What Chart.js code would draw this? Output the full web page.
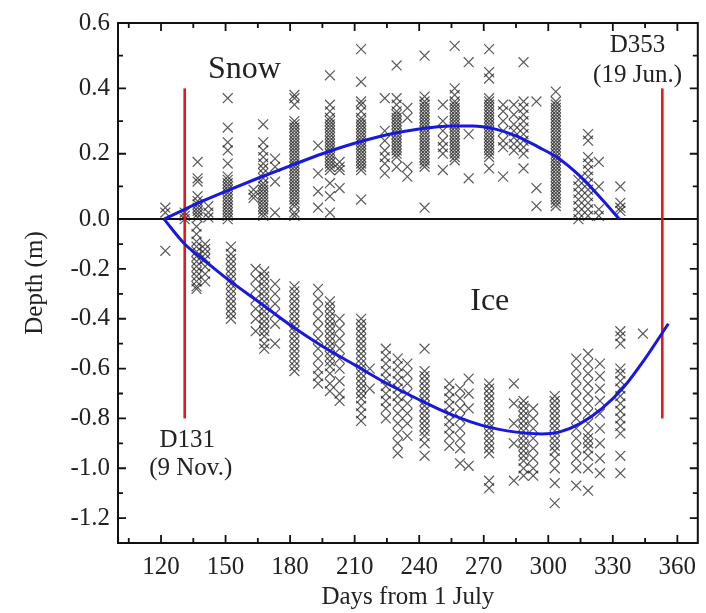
<!DOCTYPE html>
<html>
<head>
<meta charset="utf-8">
<title>Snow and ice depth</title>
<script src="https://cdn.jsdelivr.net/npm/chart.js@4.4.1/dist/chart.umd.min.js"></script>
<style>
  html, body { margin: 0; padding: 0; background: #fff; }
  #wrap { width: 706px; height: 613px; }
</style>
</head>
<body>
<div id="wrap"><canvas id="depthChart"></canvas></div>
<script>
var FONT = '"Liberation Serif", "Times New Roman", serif';
var INK = '#222';

// ─── AXIS TICKS ──────────────────────────────────────────────────────────
var xTicks = [120, 150, 180, 210, 240, 270, 300, 330, 360];
var xMinorTicks = [105, 135, 165, 195, 225, 255, 285, 315, 345];
var snowTicks = [0.2, 0.4, 0.6];
var iceTicks = [-1.2, -1.0, -0.8, -0.6, -0.4, -0.2, 0.0];
var yMinorTicks = [0.5, 0.3, 0.1, -0.1, -0.3, -0.5, -0.7, -0.9, -1.1];

// ─── MEASUREMENTS: one list of depths per sampling day ───────────────────
var snowDays = [122, 131, 137, 142, 151, 163, 167.5, 173, 182, 193, 198.5, 203, 213, 224, 229.5, 234.5,
    242.5, 251, 256.5, 263, 272.5, 279, 284, 288.5, 294.5, 303.5, 314, 318.5, 323.5, 333.5];
var snowDepths = [
    [0.035, 0.02],
    [0.02, 0.01, 0.0],
    [0.175, 0.125, 0.115, 0.07, 0.055, 0.045, 0.035, 0.025, 0.015, 0.005],
    [0.04, 0.02, 0.005],
    [0.37, 0.28, 0.235, 0.21, 0.17, 0.13, 0.12, 0.11, 0.1, 0.09, 0.08, 0.07, 0.06, 0.05, 0.04, 0.03, 0.02, 0.01, 0.0],
    [0.09, 0.075, 0.065],
    [0.29, 0.235, 0.21, 0.19, 0.17, 0.155, 0.14, 0.125, 0.11, 0.1, 0.09, 0.08, 0.07, 0.06, 0.05, 0.04, 0.03, 0.02, 0.01],
    [0.185, 0.16, 0.115, 0.02],
    [0.38, 0.37, 0.35, 0.3, 0.29, 0.28, 0.27, 0.26, 0.25, 0.24, 0.23, 0.22, 0.21, 0.2, 0.19, 0.18, 0.17, 0.16,
        0.15, 0.14, 0.13, 0.12, 0.11, 0.1, 0.09, 0.08, 0.07, 0.06, 0.05, 0.04, 0.02, 0.01],
    [0.225, 0.14, 0.085, 0.035],
    [0.44, 0.35, 0.33, 0.31, 0.3, 0.29, 0.28, 0.27, 0.26, 0.25, 0.24, 0.23, 0.22, 0.21, 0.2, 0.19, 0.18, 0.17,
        0.16, 0.15, 0.11, 0.07, 0.02],
    [0.175, 0.16, 0.15, 0.095],
    [0.52, 0.42, 0.36, 0.35, 0.33, 0.31, 0.3, 0.29, 0.28, 0.27, 0.26, 0.25, 0.24, 0.23, 0.22, 0.21, 0.2, 0.19,
        0.18, 0.17, 0.16, 0.15, 0.06],
    [0.37, 0.27, 0.24, 0.21, 0.19, 0.17, 0.14],
    [0.47, 0.37, 0.35, 0.33, 0.32, 0.31, 0.3, 0.29, 0.28, 0.27, 0.26, 0.25, 0.24, 0.23, 0.22, 0.21, 0.2, 0.19, 0.16],
    [0.34, 0.31, 0.16, 0.13],
    [0.5, 0.375, 0.36, 0.35, 0.34, 0.33, 0.32, 0.31, 0.3, 0.29, 0.28, 0.27, 0.26, 0.25, 0.24, 0.23, 0.22, 0.21,
        0.2, 0.19, 0.18, 0.17, 0.16, 0.035],
    [0.35, 0.3, 0.27, 0.24, 0.22, 0.2, 0.15],
    [0.53, 0.4, 0.38, 0.36, 0.35, 0.34, 0.33, 0.32, 0.31, 0.3, 0.29, 0.28, 0.27, 0.26, 0.25, 0.24, 0.23, 0.22,
        0.21, 0.2, 0.19, 0.18],
    [0.48, 0.26, 0.125],
    [0.52, 0.45, 0.43, 0.37, 0.36, 0.35, 0.34, 0.33, 0.32, 0.31, 0.3, 0.29, 0.28, 0.27, 0.26, 0.25, 0.24, 0.23,
        0.22, 0.21, 0.2, 0.19, 0.155],
    [0.35, 0.33, 0.3, 0.27, 0.24, 0.22, 0.13],
    [0.35, 0.32, 0.29, 0.27, 0.25, 0.23, 0.21],
    [0.48, 0.36, 0.34, 0.32, 0.3, 0.28, 0.26, 0.24, 0.22, 0.2, 0.155],
    [0.36, 0.095, 0.04],
    [0.39, 0.36, 0.35, 0.34, 0.33, 0.32, 0.31, 0.3, 0.29, 0.28, 0.27, 0.26, 0.25, 0.24, 0.23, 0.22, 0.21, 0.2,
        0.19, 0.18, 0.17, 0.16, 0.15, 0.14, 0.13, 0.12, 0.11, 0.1, 0.09, 0.08, 0.07, 0.06, 0.05, 0.04],
    [0.12, 0.1, 0.08, 0.06, 0.04, 0.02, 0.0],
    [0.26, 0.24, 0.19, 0.17, 0.15, 0.13, 0.11, 0.09, 0.07, 0.05, 0.03, 0.01],
    [0.175, 0.1, 0.03, 0.01],
    [0.1, 0.05, 0.035, 0.025]
];

var iceDays = [122, 136.5, 140.5, 152.5, 164, 168, 173, 182, 193, 198.5, 203, 213, 217, 224.5, 230, 234.5,
    242.5, 254, 259, 263, 272.5, 284, 288.5, 293, 303, 313, 318.5, 324, 333.5, 344];
var iceDepths = [
    [-0.127],
    [-0.03, -0.06, -0.09, -0.11, -0.13, -0.15, -0.17, -0.19, -0.21, -0.23, -0.25, -0.27, -0.28],
    [-0.1, -0.12, -0.14, -0.16, -0.19, -0.22, -0.25],
    [-0.11, -0.14, -0.16, -0.18, -0.2, -0.22, -0.24, -0.26, -0.28, -0.3, -0.32, -0.34, -0.36, -0.38, -0.4],
    [-0.2, -0.24, -0.28, -0.32, -0.36, -0.4, -0.45],
    [-0.21, -0.23, -0.25, -0.27, -0.29, -0.31, -0.33, -0.35, -0.37, -0.39, -0.41, -0.43, -0.45, -0.47, -0.5, -0.52],
    [-0.26, -0.3, -0.34, -0.38, -0.42, -0.5],
    [-0.27, -0.29, -0.31, -0.33, -0.35, -0.37, -0.39, -0.41, -0.43, -0.45, -0.47, -0.49, -0.51, -0.53, -0.55,
        -0.57, -0.59, -0.61],
    [-0.28, -0.32, -0.36, -0.4, -0.44, -0.48, -0.52, -0.56, -0.6, -0.63, -0.66],
    [-0.33, -0.35, -0.37, -0.39, -0.41, -0.43, -0.45, -0.47, -0.49, -0.51, -0.53, -0.55, -0.57, -0.59, -0.62,
        -0.66, -0.69],
    [-0.4, -0.44, -0.48, -0.52, -0.56, -0.6, -0.65, -0.7, -0.73],
    [-0.4, -0.42, -0.44, -0.46, -0.48, -0.5, -0.52, -0.54, -0.56, -0.58, -0.6, -0.62, -0.64, -0.66, -0.68, -0.7,
        -0.72, -0.75, -0.78, -0.81],
    [-0.6, -0.68],
    [-0.52, -0.55, -0.58, -0.61, -0.64, -0.67, -0.7, -0.73, -0.76, -0.8],
    [-0.56, -0.59, -0.62, -0.65, -0.68, -0.71, -0.74, -0.78, -0.82, -0.86, -0.9, -0.94],
    [-0.58, -0.62, -0.66, -0.7, -0.74, -0.78, -0.82, -0.87],
    [-0.52, -0.61, -0.63, -0.65, -0.67, -0.69, -0.71, -0.73, -0.75, -0.77, -0.79, -0.81, -0.83, -0.85, -0.87,
        -0.9, -0.95],
    [-0.66, -0.69, -0.72, -0.75, -0.78, -0.81, -0.84, -0.87, -0.91],
    [-0.68, -0.72, -0.76, -0.8, -0.84, -0.88, -0.92, -0.98],
    [-0.64, -0.7, -0.76, -0.99],
    [-0.66, -0.68, -0.7, -0.72, -0.74, -0.76, -0.78, -0.8, -0.82, -0.84, -0.86, -0.88, -0.9, -0.92, -0.94,
        -1.05, -1.08],
    [-0.66, -0.74, -0.82, -0.9, -1.05],
    [-0.73, -0.75, -0.77, -0.79, -0.81, -0.83, -0.85, -0.87, -0.89, -0.91, -0.93, -0.95, -0.97, -1.0, -1.03],
    [-0.76, -0.8, -0.84, -0.88, -0.92, -0.96, -1.0, -1.03],
    [-0.71, -0.73, -0.75, -0.77, -0.79, -0.81, -0.83, -0.85, -0.87, -0.89, -0.91, -0.93, -0.96, -1.0, -1.06, -1.14],
    [-0.56, -0.6, -0.64, -0.68, -0.72, -0.76, -0.8, -0.84, -0.88, -0.92, -0.96, -1.0, -1.07],
    [-0.54, -0.58, -0.62, -0.66, -0.7, -0.74, -0.78, -0.82, -0.86, -0.88, -0.9, -0.92, -0.95, -1.0, -1.09],
    [-0.58, -0.63, -0.68, -0.73, -0.78, -0.84, -0.9, -0.96, -1.02],
    [-0.45, -0.47, -0.5, -0.6, -0.62, -0.65, -0.68, -0.71, -0.74, -0.77, -0.8, -0.83, -0.86, -0.95, -1.02],
    [-0.46]
];

// ─── FITTED CURVES ───────────────────────────────────────────────────────
var snowFitDays  = [121.4, 131, 140, 150, 165, 180, 195, 210, 225, 240, 255, 265, 275, 285, 295, 305, 315, 325, 333];
var snowFitDepth = [0, 0.03, 0.057, 0.085, 0.125, 0.163, 0.2, 0.232, 0.258, 0.276, 0.285, 0.285, 0.276, 0.255, 0.222, 0.185, 0.13, 0.06, 0];
var iceFitDays  = [121.4, 131, 140, 150, 165, 180, 195, 210, 225, 240, 255, 270, 285, 297, 305, 315, 325, 335, 345, 355.8];
var iceFitDepth = [0, -0.1, -0.165, -0.235, -0.33, -0.425, -0.51, -0.585, -0.66, -0.725, -0.785, -0.83, -0.855, -0.862, -0.855, -0.82, -0.76, -0.675, -0.56, -0.42];

// ─── SEASON MARKERS (D131, D353) ─────────────────────────────────────────
var markerDays = [131, 353];
var markerTop = 0.4;
var markerBottom = -0.8;

function columnPoints(days, depths) {
    var pts = [];
    days.forEach(function (d, i) {
        depths[i].forEach(function (v) { pts.push({ x: d, y: v }); });
    });
    return pts;
}

function zip(xs, ys) {
    return xs.map(function (x, i) { return { x: x, y: ys[i] }; });
}

var lineBase = { showLine: true, pointRadius: 0, pointHoverRadius: 0, fill: false, clip: false };

var datasets = [
    Object.assign({ data: zip(snowFitDays, snowFitDepth), yAxisID: 'ySnow', borderColor: '#1818e0', borderWidth: 3, cubicInterpolationMode: 'monotone' }, lineBase),
    Object.assign({ data: zip(iceFitDays, iceFitDepth), yAxisID: 'yIce', borderColor: '#1818e0', borderWidth: 3, cubicInterpolationMode: 'monotone' }, lineBase)
];
markerDays.forEach(function (d) {
    datasets.push(Object.assign({ data: [{ x: d, y: 0 }, { x: d, y: markerTop }], yAxisID: 'ySnow', borderColor: '#f01414', borderWidth: 2.6 }, lineBase));
    datasets.push(Object.assign({ data: [{ x: d, y: markerBottom }, { x: d, y: 0 }], yAxisID: 'yIce', borderColor: '#f01414', borderWidth: 2.6 }, lineBase));
});
// zero line between the snow and ice halves
datasets.push(Object.assign({ data: [{ x: 100, y: 0 }, { x: 369.5, y: 0 }], yAxisID: 'yIce', borderColor: '#111', borderWidth: 2 }, lineBase));

var crossStyle = { pointStyle: 'crossRot', pointRadius: 7, pointHoverRadius: 7, borderColor: 'rgba(25,25,25,0.72)', borderWidth: 1.2, clip: false };
datasets.push(Object.assign({ data: columnPoints(snowDays, snowDepths), yAxisID: 'ySnow' }, crossStyle));
datasets.push(Object.assign({ data: columnPoints(iceDays, iceDepths), yAxisID: 'yIce' }, crossStyle));

function setTicks(values) {
    return function (scale) { scale.ticks = values.map(function (v) { return { value: v }; }); };
}

var tickFont = { family: FONT, size: 25 };

// ─── FRAME, INWARD TICKS AND TEXT ────────────────────────────────────────
var framePlugin = {
    id: 'frame',
    afterDatasetsDraw: function (chart) {
        var ctx = chart.ctx, a = chart.chartArea;
        var xs = chart.scales.x, ys = chart.scales.ySnow, yi = chart.scales.yIce;
        function yPix(v) { return v >= 0 ? ys.getPixelForValue(v) : yi.getPixelForValue(v); }
        ctx.save();
        ctx.strokeStyle = '#111';
        ctx.lineWidth = 2;
        ctx.strokeRect(a.left, a.top, a.right - a.left, a.bottom - a.top);
        ctx.lineWidth = 1.8;
        ctx.beginPath();
        function xTick(v, len) {
            var p = xs.getPixelForValue(v);
            ctx.moveTo(p, a.bottom); ctx.lineTo(p, a.bottom - len);
            ctx.moveTo(p, a.top); ctx.lineTo(p, a.top + len);
        }
        function yTick(v, len) {
            var p = yPix(v);
            ctx.moveTo(a.left, p); ctx.lineTo(a.left + len, p);
            ctx.moveTo(a.right, p); ctx.lineTo(a.right - len, p);
        }
        xTicks.forEach(function (v) { xTick(v, 8); });
        xMinorTicks.forEach(function (v) { xTick(v, 5); });
        snowTicks.concat(iceTicks).forEach(function (v) { yTick(v, 8); });
        yMinorTicks.forEach(function (v) { yTick(v, 5); });
        ctx.stroke();
        ctx.restore();
    },
    afterDraw: function (chart) {
        var ctx = chart.ctx, a = chart.chartArea;
        var xs = chart.scales.x, ys = chart.scales.ySnow, yi = chart.scales.yIce;
        function yPix(v) { return v >= 0 ? ys.getPixelForValue(v) : yi.getPixelForValue(v); }
        ctx.save();
        ctx.fillStyle = INK;
        ctx.textAlign = 'center';
        ctx.textBaseline = 'alphabetic';
        ctx.font = '32px ' + FONT;
        ctx.fillText('Snow', xs.getPixelForValue(158.8), yPix(0.433));
        ctx.fillText('Ice', xs.getPixelForValue(272.8), yPix(-0.364));
        ctx.font = '25px ' + FONT;
        ctx.fillText('D353', xs.getPixelForValue(341.5), yPix(0.512));
        ctx.fillText('(19 Jun.)', xs.getPixelForValue(341.5), yPix(0.421));
        ctx.fillText('D131', xs.getPixelForValue(132.2), yPix(-0.915));
        ctx.fillText('(9 Nov.)', xs.getPixelForValue(133.8), yPix(-1.026));
        // y axis title spans both halves
        ctx.translate(35, (a.top + a.bottom) / 2);
        ctx.rotate(-Math.PI / 2);
        ctx.textBaseline = 'middle';
        ctx.fillText('Depth (m)', 0, 0);
        ctx.restore();
    }
};

new Chart(document.getElementById('depthChart'), {
    type: 'scatter',
    data: { datasets: datasets },
    options: {
        responsive: true,
        maintainAspectRatio: false,
        animation: false,
        events: [],
        layout: { padding: { left: 0, right: 4, top: 18, bottom: 0 } },
        plugins: { legend: { display: false }, tooltip: { enabled: false } },
        scales: {
            x: {
                type: 'linear', position: 'bottom', min: 100, max: 369.5,
                grid: { display: false, drawTicks: false }, border: { display: false },
                afterBuildTicks: setTicks(xTicks),
                afterFit: function (s) { s.height = 70; },
                ticks: { font: tickFont, color: INK, padding: 9, maxRotation: 0, autoSkip: false },
                title: { display: true, text: 'Days from 1 July', font: { family: FONT, size: 25 }, color: INK, padding: { top: 0, bottom: 1 } }
            },
            yIce: {
                type: 'linear', position: 'left', min: -1.3, max: 0, stack: 'depth', stackWeight: 327,
                grid: { display: false, drawTicks: false }, border: { display: false },
                afterBuildTicks: setTicks(iceTicks),
                afterFit: function (s) { s.width = 118; },
                ticks: { font: tickFont, color: INK, padding: 8, autoSkip: false, callback: function (v) { return v.toFixed(1); } }
            },
            ySnow: {
                type: 'linear', position: 'left', min: 0, max: 0.6, stack: 'depth', stackWeight: 198,
                grid: { display: false, drawTicks: false }, border: { display: false },
                afterBuildTicks: setTicks(snowTicks),
                afterFit: function (s) { s.width = 118; },
                ticks: { font: tickFont, color: INK, padding: 8, autoSkip: false, callback: function (v) { return v.toFixed(1); } }
            }
        }
    },
    plugins: [framePlugin]
});
</script>
</body>
</html>
